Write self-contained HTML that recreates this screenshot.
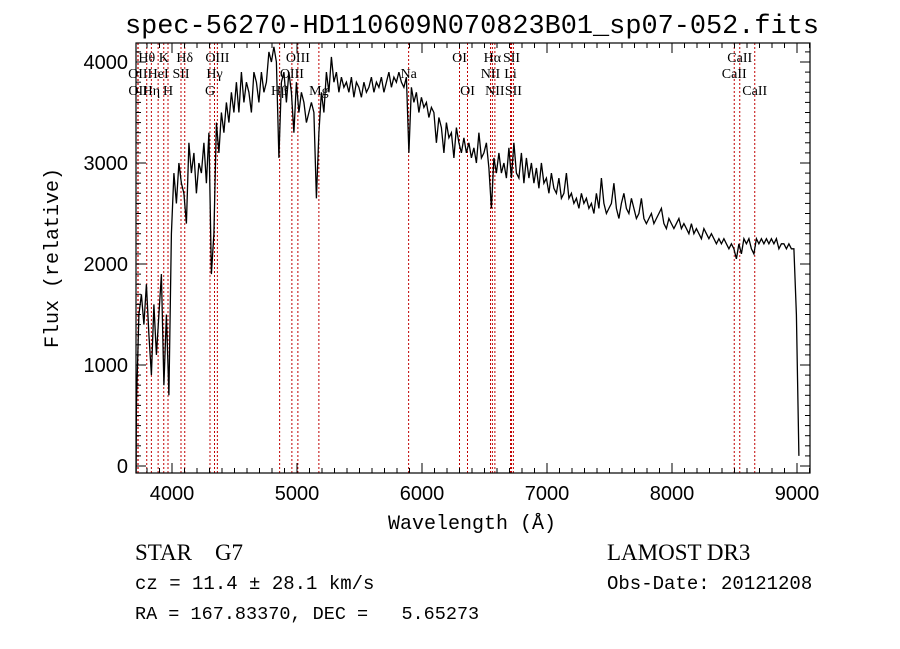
<!DOCTYPE html>
<html><head><meta charset="utf-8"><style>
html,body{margin:0;padding:0;background:#fff;}
svg{display:block;}
</style></head><body>
<svg id="chart" width="900" height="649" viewBox="0 0 900 649" xmlns="http://www.w3.org/2000/svg">
<rect width="900" height="649" fill="#fff"/>
<text x="472" y="33" text-anchor="middle" font-family="Liberation Mono, monospace" font-size="27" textLength="694" lengthAdjust="spacingAndGlyphs">spec-56270-HD110609N070823B01_sp07-052.fits</text>
<g id="lines"></g>
<g id="labels"></g>
<path id="spec" fill="none" stroke="#000" stroke-width="1.3"/>
<rect x="136" y="43" width="674" height="430" fill="none" stroke="#000" stroke-width="1.2"/>
<g id="ticks" stroke="#000" stroke-width="1"></g>
<g id="ticklabels" font-family="Liberation Sans, sans-serif" font-size="20"></g>
<text x="472" y="529" text-anchor="middle" font-family="Liberation Mono, monospace" font-size="20">Wavelength (Å)</text>
<text transform="translate(58,258) rotate(-90)" text-anchor="middle" font-family="Liberation Mono, monospace" font-size="20">Flux (relative)</text>
<text x="135" y="560" font-family="Liberation Serif, serif" font-size="23" xml:space="preserve">STAR    G7</text>
<text x="607" y="560" font-family="Liberation Serif, serif" font-size="23">LAMOST DR3</text>
<text x="135" y="589" font-family="Liberation Mono, monospace" font-size="19">cz = 11.4 ± 28.1 km/s</text>
<text x="607" y="589" font-family="Liberation Mono, monospace" font-size="19">Obs-Date: 20121208</text>
<text x="135" y="619" font-family="Liberation Mono, monospace" font-size="18.5" xml:space="preserve">RA = 167.83370, DEC =   5.65273</text>
</svg>
<script>
const waveStart = 3715;
const waveStep = 20;
const flux = [
600,1500,1700,1400,1800, 1300,900,1600,1100,1500, 1900,800,1500,700,2300,
2900,2600,3000,2800,2700, 2400,3200,2900,3100,2700, 3000,2900,3200,2800,3300,
1900,2300,3400,3100,3500, 3300,3600,3400,3700,3500, 3800,3500,3900,3600,3800,
3700,3500,3900,3800,3600, 3900,3700,3800,4100,4000, 4150,4000,3050,3800,3900,
3600,3900,3700,3300,3800, 3500,3700,3600,3400,3500, 3600,3500,2650,3300,3700,
3500,3900,3700,4050,3800, 3900,3700,3850,3750,3800, 3700,3850,3650,3800,3750,
3650,3800,3700,3750,3850, 3700,3800,3750,3850,3700, 3800,3900,3750,3850,3800,
3900,3800,3750,3850,3100, 3750,3600,3700,3500,3650, 3550,3600,3450,3550,3500,
3200,3450,3350,3100,3400, 3250,3300,3050,3350,3200, 3100,3250,3100,3200,3050,
3150,3000,3300,3050,3100, 3200,2950,2550,3050,2900, 3100,2900,3000,2850,3150,
2850,3200,2900,2850,3100, 2800,3050,2850,3000,2800, 2950,2750,3000,2800,2850,
2700,2900,2750,2700,2850, 2650,2700,2900,2650,2700, 2600,2650,2550,2700,2600,
2650,2550,2600,2500,2700, 2550,2850,2600,2500,2550, 2600,2800,2550,2450,2600,
2700,2550,2500,2650,2550, 2450,2500,2650,2450,2400, 2450,2500,2400,2450,2500,
2550,2400,2350,2450,2400, 2350,2400,2450,2350,2400, 2350,2300,2400,2300,2350,
2300,2250,2350,2300,2250, 2300,2250,2200,2250,2200, 2250,2200,2150,2200,2150,
2050,2200,2100,2250,2200, 2250,2150,2100,2250,2200, 2250,2200,2250,2200,2250,
2200,2250,2150,2200,2200, 2150,2200,2150,2150,1500, 100
];
const lineNames = ["Hθ","K","Hδ","OIII","OIII","OI","Hα","SII","CaII",
 "OII","HeI","SII","Hγ","OIII","Na","NII","Li","CaII",
 "OII","Hη","H","G","Hβ","Mg","OI","NII","SII","CaII"];
const lineWaves = [3798,3934,4102,4363,5007,6300,6563,6716,8542,
 3727,3889,4072,4340,4959,5893,6548,6708,8498,
 3729,3835,3968,4304,4861,5175,6364,6583,6731,8662];
const lineRows = [0,0,0,0,0,0,0,0,0, 1,1,1,1,1,1,1,1,1, 2,2,2,2,2,2,2,2,2,2];
const xTicks = [4000,5000,6000,7000,8000,9000];
const yTicks = [0,1000,2000,3000,4000];

const X0=136, X1=810, Y0=43, Y1=473;
function x(w){ return 172 + (w-4000)*0.125; }
function y(v){ return 466 - v*0.101; }
const NS="http://www.w3.org/2000/svg";
function mk(tag, parent){ const e=document.createElementNS(NS,tag); parent.appendChild(e); return e; }

let d="";
flux.forEach((v,i)=>{ const w=waveStart+i*waveStep; d+=(i?"L":"M")+x(w).toFixed(1)+","+Math.min(Y1,Math.max(Y0,y(v))).toFixed(1); });
d = "M"+x(waveStart-2).toFixed(1)+","+Y1+"L"+d.slice(1);
document.getElementById('spec').setAttribute('d', d);

const lg=document.getElementById('lines'), lb=document.getElementById('labels');
const rowY=[62,78,95];
lineWaves.forEach((w,i)=>{
  const l=mk('line',lg);
  
  
  l.setAttribute('x1',x(w)); l.setAttribute('x2',x(w)); l.setAttribute('y1',Y0); l.setAttribute('y2',Y1);
  l.setAttribute('stroke','#c00000'); l.setAttribute('stroke-width','1'); l.setAttribute('stroke-dasharray','2,2');
  const t=mk('text',lb);
  
  
  t.setAttribute('x',x(w)); t.setAttribute('y',rowY[lineRows[i]]);
  t.setAttribute('text-anchor','middle'); t.setAttribute('font-family','Liberation Serif, serif'); t.setAttribute('font-size','14');
  t.textContent=lineNames[i];
});

const tg=document.getElementById('ticks'), tl=document.getElementById('ticklabels');
function tick(x1,y1,x2,y2){ const l=mk('line',tg);   l.setAttribute('x1',x1);l.setAttribute('y1',y1);l.setAttribute('x2',x2);l.setAttribute('y2',y2); }
for(let w=3800; w<=9100; w+=100){
  const px=x(w); if(px<X0||px>X1) continue;
  const len = (w%1000===0)?10:5;
  tick(px,Y1,px,Y1-len); tick(px,Y0,px,Y0+len);
}
for(let v=0; v<=4100; v+=100){
  const py=y(v); if(py<Y0||py>Y1) continue;
  const len=(v%1000===0)?10:5;
  tick(X0,py,X0+len,py); tick(X1,py,X1-len,py);
}
xTicks.forEach(w=>{ const t=mk('text',tl);   t.setAttribute('x',x(w)); t.setAttribute('y',500); t.setAttribute('text-anchor','middle'); t.textContent=w; });
yTicks.forEach(v=>{ const t=mk('text',tl);   t.setAttribute('x',128); t.setAttribute('y',y(v)+7); t.setAttribute('text-anchor','end'); t.textContent=v; });
</script>
</body></html>
